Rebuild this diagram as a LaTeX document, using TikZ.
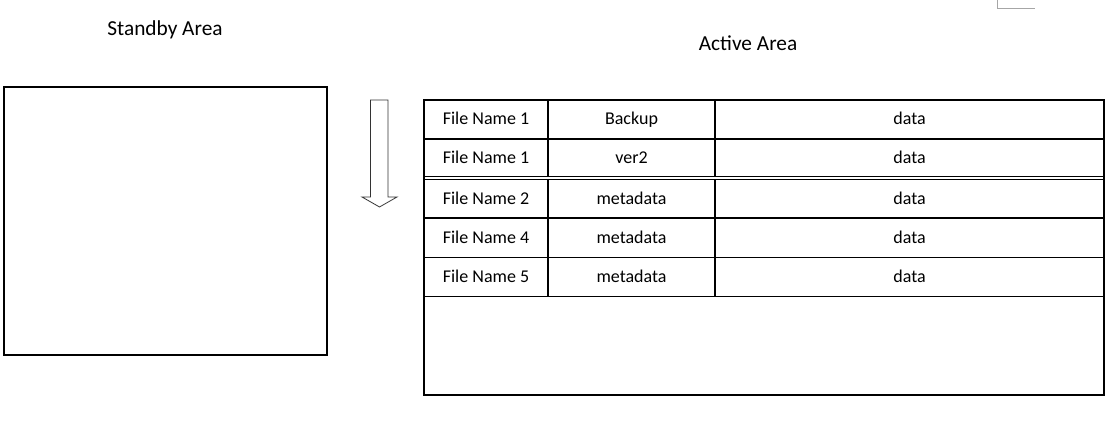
\documentclass[tikz,border=0pt]{standalone}
\usepackage{fontspec}
\setmainfont{Carlito}

\begin{document}
\begin{tikzpicture}[x=0.75pt,y=-0.75pt,line width=1.3pt,
  title/.style={font=\fontsize{16}{19}\selectfont},
  celltext/.style={font=\fontsize{13.5}{16}\selectfont,text height=2.1ex,text depth=0.4ex}]
  \useasboundingbox (0,0) rectangle (1117,438);
  % standby area
  \node[title] (standby) at (165,29.5) {Standby Area};
  \draw (4,87) rectangle (327,355);
  % moving arrow
  \draw[line width=0.6pt, black!80] (370.5,100) -- (388,100) -- (388,197) -- (397,197)
    -- (379.5,207) -- (362,197) -- (370.5,197) -- cycle;
  % active area
  \node[title] (active) at (748,43.5) {Active Area};
  \draw (424,100) rectangle (1104,395);
  \foreach \top/\bot/\fname/\meta [count=\i] in {100/139/File Name 1/Backup,
      139/176.5/File Name 1/ver2, 179.5/218/File Name 2/metadata,
      218/257.5/File Name 4/metadata, 257.5/296.5/File Name 5/metadata}
  {
    \draw (424,\top) rectangle (1104,\bot);
    \draw (548,\top) -- (548,\bot);
    \draw (715,\top) -- (715,\bot);
    \node[celltext] (name\i) at (486,{(\top+\bot)/2}) {\fname};
    \node[celltext] (meta\i) at (631.5,{(\top+\bot)/2}) {\meta};
    \node[celltext] (data\i) at (909.5,{(\top+\bot)/2}) {data};
  }
  % corner mark
  \draw[line width=0.6pt, black!35] (997,0) -- (997,8) -- (1035,8);
\end{tikzpicture}
\end{document}
